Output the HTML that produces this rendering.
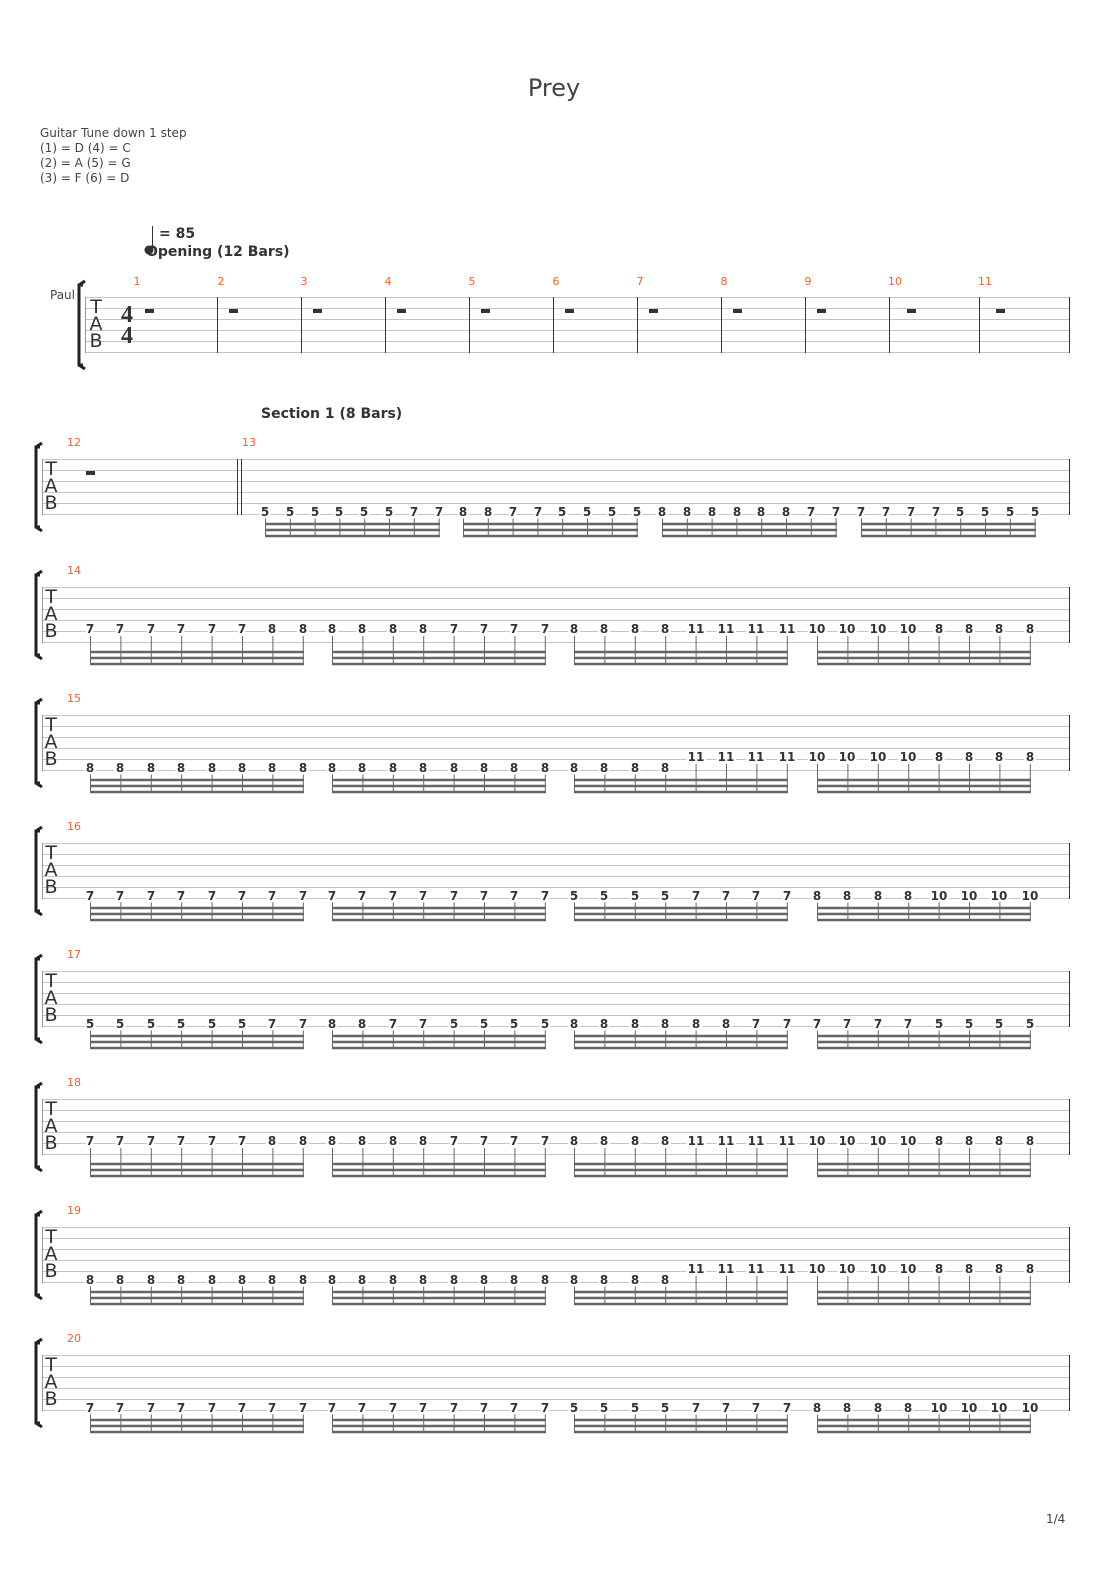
<!DOCTYPE html>
<html><head><meta charset="utf-8"><style>
body{margin:0;background:#fff}
svg{display:block}
.n{font-family:"DejaVu Sans","Liberation Sans",sans-serif;font-weight:bold;font-size:12px;fill:#333;text-anchor:middle;paint-order:stroke;stroke:#fff;stroke-width:5px;stroke-linejoin:round}
.m{font-family:"DejaVu Sans","Liberation Sans",sans-serif;font-size:11px;fill:#f0602c;text-anchor:middle}
.t{font-family:"DejaVu Sans","Liberation Sans",sans-serif;font-size:12px;fill:#444}
.tab{font-family:"DejaVu Sans","Liberation Sans",sans-serif;font-size:19px;fill:#333;text-anchor:middle}
</style></head><body>
<svg width="1110" height="1570" viewBox="0 0 1110 1570" xmlns="http://www.w3.org/2000/svg">
<defs>
<g id="st"><g stroke="#c4c4c4" stroke-width="1"><line x1="42" y1="0.5" x2="1070" y2="0.5"/><line x1="42" y1="11.5" x2="1070" y2="11.5"/><line x1="42" y1="22.5" x2="1070" y2="22.5"/><line x1="42" y1="33.5" x2="1070" y2="33.5"/><line x1="42" y1="44.5" x2="1070" y2="44.5"/><line x1="42" y1="55.5" x2="1070" y2="55.5"/></g>
<line x1="42.5" y1="0" x2="42.5" y2="56" stroke="#999"/><line x1="1069.5" y1="0" x2="1069.5" y2="56" stroke="#333"/>
<path d="M40,-12 L36,-12 L36,68 L40,68 M36,-12 L42,-16 M36,68 L42,72" stroke="#222" stroke-width="3" fill="none"/>
<text class="tab" x="51" y="16">T</text><text class="tab" x="51" y="33">A</text><text class="tab" x="51" y="50">B</text></g>
<g id="bw" stroke="#666"><g stroke-width="1"><line x1="0.5" y1="49" x2="0.5" y2="78"/><line x1="30.9" y1="49" x2="30.9" y2="78"/><line x1="61.3" y1="49" x2="61.3" y2="78"/><line x1="91.7" y1="49" x2="91.7" y2="78"/><line x1="122.1" y1="49" x2="122.1" y2="78"/><line x1="152.5" y1="49" x2="152.5" y2="78"/><line x1="182.9" y1="49" x2="182.9" y2="78"/><line x1="213.3" y1="49" x2="213.3" y2="78"/></g>
<g stroke-width="2.5"><line x1="0" y1="65" x2="214" y2="65"/><line x1="0" y1="71" x2="214" y2="71"/><line x1="0" y1="77" x2="214" y2="77"/></g></g>
<g id="bn" stroke="#666"><g stroke-width="1"><line x1="0.5" y1="58" x2="0.5" y2="78"/><line x1="25.3" y1="58" x2="25.3" y2="78"/><line x1="50.1" y1="58" x2="50.1" y2="78"/><line x1="74.9" y1="58" x2="74.9" y2="78"/><line x1="99.7" y1="58" x2="99.7" y2="78"/><line x1="124.5" y1="58" x2="124.5" y2="78"/><line x1="149.3" y1="58" x2="149.3" y2="78"/><line x1="174.1" y1="58" x2="174.1" y2="78"/></g>
<g stroke-width="2.5"><line x1="0" y1="65" x2="175" y2="65"/><line x1="0" y1="71" x2="175" y2="71"/><line x1="0" y1="77" x2="175" y2="77"/></g></g>
<g id="bws"><use href="#bw" x="90"/><use href="#bw" x="332"/><use href="#bw" x="574"/><use href="#bw" x="817"/></g>
</defs>

<text x="554" y="96" text-anchor="middle" font-family="DejaVu Sans,Liberation Sans,sans-serif" font-size="24" fill="#444">Prey</text>
<text class="t" x="40" y="137">Guitar Tune down 1 step</text>
<text class="t" x="40" y="152" font-size="11">(1) = D (4) = C</text>
<text class="t" x="40" y="167" font-size="11">(2) = A (5) = G</text>
<text class="t" x="40" y="182" font-size="11">(3) = F (6) = D</text>

<line x1="152.5" y1="226" x2="152.5" y2="249" stroke="#333"/><circle cx="149" cy="250" r="4.5" fill="#333"/>
<text x="159" y="238" font-family="DejaVu Sans,sans-serif" font-weight="bold" font-size="14" fill="#333">= 85</text>
<text x="146" y="256" font-family="DejaVu Sans,sans-serif" font-weight="bold" font-size="14" fill="#333">Opening (12 Bars)</text>

<!-- Row 1 -->
<g transform="translate(0,297)">
<g stroke="#c4c4c4"><line x1="85" y1="0.5" x2="1070" y2="0.5"/><line x1="85" y1="11.5" x2="1070" y2="11.5"/><line x1="85" y1="22.5" x2="1070" y2="22.5"/><line x1="85" y1="33.5" x2="1070" y2="33.5"/><line x1="85" y1="44.5" x2="1070" y2="44.5"/><line x1="85" y1="55.5" x2="1070" y2="55.5"/></g>
<g stroke="#333"><line x1="85.5" y1="0" x2="85.5" y2="56" stroke="#999"/><line x1="217.5" y1="0" x2="217.5" y2="56"/><line x1="301.5" y1="0" x2="301.5" y2="56"/><line x1="385.5" y1="0" x2="385.5" y2="56"/><line x1="469.5" y1="0" x2="469.5" y2="56"/><line x1="553.5" y1="0" x2="553.5" y2="56"/><line x1="637.5" y1="0" x2="637.5" y2="56"/><line x1="721.5" y1="0" x2="721.5" y2="56"/><line x1="805.5" y1="0" x2="805.5" y2="56"/><line x1="889.5" y1="0" x2="889.5" y2="56"/><line x1="979.5" y1="0" x2="979.5" y2="56"/><line x1="1069.5" y1="0" x2="1069.5" y2="56"/></g>
<path d="M83,-12 L79,-12 L79,68 L83,68 M79,-12 L85,-16 M79,68 L85,72" stroke="#222" stroke-width="3" fill="none"/>
<text class="tab" x="96" y="16">T</text><text class="tab" x="96" y="33">A</text><text class="tab" x="96" y="50">B</text>
<text x="127" y="25" text-anchor="middle" font-family="Liberation Serif,serif" font-weight="bold" font-size="24" fill="#333">4</text>
<text x="127" y="46" text-anchor="middle" font-family="Liberation Serif,serif" font-weight="bold" font-size="24" fill="#333">4</text>
<g fill="#333"><rect x="145" y="12" width="9" height="4"/><rect x="229" y="12" width="9" height="4"/><rect x="313" y="12" width="9" height="4"/><rect x="397" y="12" width="9" height="4"/><rect x="481" y="12" width="9" height="4"/><rect x="565" y="12" width="9" height="4"/><rect x="649" y="12" width="9" height="4"/><rect x="733" y="12" width="9" height="4"/><rect x="817" y="12" width="9" height="4"/><rect x="907" y="12" width="9" height="4"/><rect x="996" y="12" width="9" height="4"/></g>
</g>
<text class="t" x="50" y="299">Paul</text>
<g class="m"><text x="137" y="285">1</text><text x="221" y="285">2</text><text x="304" y="285">3</text><text x="388" y="285">4</text><text x="472" y="285">5</text><text x="556" y="285">6</text><text x="640" y="285">7</text><text x="724" y="285">8</text><text x="808" y="285">9</text><text x="895" y="285">10</text><text x="985" y="285">11</text></g>

<text x="261" y="418" font-family="DejaVu Sans,sans-serif" font-weight="bold" font-size="14" fill="#333">Section 1 (8 Bars)</text>

<!-- Row 2 (12-13) -->
<g transform="translate(0,459)">
<use href="#st"/>
<g stroke="#333"><line x1="237.5" y1="0" x2="237.5" y2="56"/><line x1="241.5" y1="0" x2="241.5" y2="56"/></g>
<rect x="86" y="12" width="9" height="4" fill="#333"/>
<use href="#bn" x="265"/><use href="#bn" x="463"/><use href="#bn" x="662"/><use href="#bn" x="861"/>
<g class="n"><text x="265" y="57">5</text><text x="290" y="57">5</text><text x="315" y="57">5</text><text x="339" y="57">5</text><text x="364" y="57">5</text><text x="389" y="57">5</text><text x="414" y="57">7</text><text x="439" y="57">7</text>
<text x="463" y="57">8</text><text x="488" y="57">8</text><text x="513" y="57">7</text><text x="538" y="57">7</text><text x="562" y="57">5</text><text x="587" y="57">5</text><text x="612" y="57">5</text><text x="637" y="57">5</text>
<text x="662" y="57">8</text><text x="687" y="57">8</text><text x="712" y="57">8</text><text x="737" y="57">8</text><text x="761" y="57">8</text><text x="786" y="57">8</text><text x="811" y="57">7</text><text x="836" y="57">7</text>
<text x="861" y="57">7</text><text x="886" y="57">7</text><text x="911" y="57">7</text><text x="936" y="57">7</text><text x="960" y="57">5</text><text x="985" y="57">5</text><text x="1010" y="57">5</text><text x="1035" y="57">5</text></g>
</g>
<g class="m"><text x="74" y="446">12</text><text x="249" y="446">13</text></g>

<!-- Row 14 -->
<g transform="translate(0,587)"><use href="#st"/><use href="#bws"/>
<g class="n">
<text x="90" y="46">7</text><text x="120" y="46">7</text><text x="151" y="46">7</text><text x="181" y="46">7</text><text x="212" y="46">7</text><text x="242" y="46">7</text><text x="272" y="46">8</text><text x="303" y="46">8</text>
<text x="332" y="46">8</text><text x="362" y="46">8</text><text x="393" y="46">8</text><text x="423" y="46">8</text><text x="454" y="46">7</text><text x="484" y="46">7</text><text x="514" y="46">7</text><text x="545" y="46">7</text>
<text x="574" y="46">8</text><text x="604" y="46">8</text><text x="635" y="46">8</text><text x="665" y="46">8</text><text x="696" y="46">11</text><text x="726" y="46">11</text><text x="756" y="46">11</text><text x="787" y="46">11</text>
<text x="817" y="46">10</text><text x="847" y="46">10</text><text x="878" y="46">10</text><text x="908" y="46">10</text><text x="939" y="46">8</text><text x="969" y="46">8</text><text x="999" y="46">8</text><text x="1030" y="46">8</text></g></g>
<text class="m" x="74" y="574">14</text>

<!-- Row 15 -->
<g transform="translate(0,715)"><use href="#st"/><use href="#bws"/>
<g class="n">
<text x="90" y="57">8</text><text x="120" y="57">8</text><text x="151" y="57">8</text><text x="181" y="57">8</text><text x="212" y="57">8</text><text x="242" y="57">8</text><text x="272" y="57">8</text><text x="303" y="57">8</text>
<text x="332" y="57">8</text><text x="362" y="57">8</text><text x="393" y="57">8</text><text x="423" y="57">8</text><text x="454" y="57">8</text><text x="484" y="57">8</text><text x="514" y="57">8</text><text x="545" y="57">8</text>
<text x="574" y="57">8</text><text x="604" y="57">8</text><text x="635" y="57">8</text><text x="665" y="57">8</text><text x="696" y="46">11</text><text x="726" y="46">11</text><text x="756" y="46">11</text><text x="787" y="46">11</text>
<text x="817" y="46">10</text><text x="847" y="46">10</text><text x="878" y="46">10</text><text x="908" y="46">10</text><text x="939" y="46">8</text><text x="969" y="46">8</text><text x="999" y="46">8</text><text x="1030" y="46">8</text></g></g>
<text class="m" x="74" y="702">15</text>

<!-- Row 16 -->
<g transform="translate(0,843)"><use href="#st"/><use href="#bws"/>
<g class="n">
<text x="90" y="57">7</text><text x="120" y="57">7</text><text x="151" y="57">7</text><text x="181" y="57">7</text><text x="212" y="57">7</text><text x="242" y="57">7</text><text x="272" y="57">7</text><text x="303" y="57">7</text>
<text x="332" y="57">7</text><text x="362" y="57">7</text><text x="393" y="57">7</text><text x="423" y="57">7</text><text x="454" y="57">7</text><text x="484" y="57">7</text><text x="514" y="57">7</text><text x="545" y="57">7</text>
<text x="574" y="57">5</text><text x="604" y="57">5</text><text x="635" y="57">5</text><text x="665" y="57">5</text><text x="696" y="57">7</text><text x="726" y="57">7</text><text x="756" y="57">7</text><text x="787" y="57">7</text>
<text x="817" y="57">8</text><text x="847" y="57">8</text><text x="878" y="57">8</text><text x="908" y="57">8</text><text x="939" y="57">10</text><text x="969" y="57">10</text><text x="999" y="57">10</text><text x="1030" y="57">10</text></g></g>
<text class="m" x="74" y="830">16</text>

<!-- Row 17 -->
<g transform="translate(0,971)"><use href="#st"/><use href="#bws"/>
<g class="n">
<text x="90" y="57">5</text><text x="120" y="57">5</text><text x="151" y="57">5</text><text x="181" y="57">5</text><text x="212" y="57">5</text><text x="242" y="57">5</text><text x="272" y="57">7</text><text x="303" y="57">7</text>
<text x="332" y="57">8</text><text x="362" y="57">8</text><text x="393" y="57">7</text><text x="423" y="57">7</text><text x="454" y="57">5</text><text x="484" y="57">5</text><text x="514" y="57">5</text><text x="545" y="57">5</text>
<text x="574" y="57">8</text><text x="604" y="57">8</text><text x="635" y="57">8</text><text x="665" y="57">8</text><text x="696" y="57">8</text><text x="726" y="57">8</text><text x="756" y="57">7</text><text x="787" y="57">7</text>
<text x="817" y="57">7</text><text x="847" y="57">7</text><text x="878" y="57">7</text><text x="908" y="57">7</text><text x="939" y="57">5</text><text x="969" y="57">5</text><text x="999" y="57">5</text><text x="1030" y="57">5</text></g></g>
<text class="m" x="74" y="958">17</text>

<!-- Row 18 -->
<g transform="translate(0,1099)"><use href="#st"/><use href="#bws"/>
<g class="n">
<text x="90" y="46">7</text><text x="120" y="46">7</text><text x="151" y="46">7</text><text x="181" y="46">7</text><text x="212" y="46">7</text><text x="242" y="46">7</text><text x="272" y="46">8</text><text x="303" y="46">8</text>
<text x="332" y="46">8</text><text x="362" y="46">8</text><text x="393" y="46">8</text><text x="423" y="46">8</text><text x="454" y="46">7</text><text x="484" y="46">7</text><text x="514" y="46">7</text><text x="545" y="46">7</text>
<text x="574" y="46">8</text><text x="604" y="46">8</text><text x="635" y="46">8</text><text x="665" y="46">8</text><text x="696" y="46">11</text><text x="726" y="46">11</text><text x="756" y="46">11</text><text x="787" y="46">11</text>
<text x="817" y="46">10</text><text x="847" y="46">10</text><text x="878" y="46">10</text><text x="908" y="46">10</text><text x="939" y="46">8</text><text x="969" y="46">8</text><text x="999" y="46">8</text><text x="1030" y="46">8</text></g></g>
<text class="m" x="74" y="1086">18</text>

<!-- Row 19 -->
<g transform="translate(0,1227)"><use href="#st"/><use href="#bws"/>
<g class="n">
<text x="90" y="57">8</text><text x="120" y="57">8</text><text x="151" y="57">8</text><text x="181" y="57">8</text><text x="212" y="57">8</text><text x="242" y="57">8</text><text x="272" y="57">8</text><text x="303" y="57">8</text>
<text x="332" y="57">8</text><text x="362" y="57">8</text><text x="393" y="57">8</text><text x="423" y="57">8</text><text x="454" y="57">8</text><text x="484" y="57">8</text><text x="514" y="57">8</text><text x="545" y="57">8</text>
<text x="574" y="57">8</text><text x="604" y="57">8</text><text x="635" y="57">8</text><text x="665" y="57">8</text><text x="696" y="46">11</text><text x="726" y="46">11</text><text x="756" y="46">11</text><text x="787" y="46">11</text>
<text x="817" y="46">10</text><text x="847" y="46">10</text><text x="878" y="46">10</text><text x="908" y="46">10</text><text x="939" y="46">8</text><text x="969" y="46">8</text><text x="999" y="46">8</text><text x="1030" y="46">8</text></g></g>
<text class="m" x="74" y="1214">19</text>

<!-- Row 20 -->
<g transform="translate(0,1355)"><use href="#st"/><use href="#bws"/>
<g class="n">
<text x="90" y="57">7</text><text x="120" y="57">7</text><text x="151" y="57">7</text><text x="181" y="57">7</text><text x="212" y="57">7</text><text x="242" y="57">7</text><text x="272" y="57">7</text><text x="303" y="57">7</text>
<text x="332" y="57">7</text><text x="362" y="57">7</text><text x="393" y="57">7</text><text x="423" y="57">7</text><text x="454" y="57">7</text><text x="484" y="57">7</text><text x="514" y="57">7</text><text x="545" y="57">7</text>
<text x="574" y="57">5</text><text x="604" y="57">5</text><text x="635" y="57">5</text><text x="665" y="57">5</text><text x="696" y="57">7</text><text x="726" y="57">7</text><text x="756" y="57">7</text><text x="787" y="57">7</text>
<text x="817" y="57">8</text><text x="847" y="57">8</text><text x="878" y="57">8</text><text x="908" y="57">8</text><text x="939" y="57">10</text><text x="969" y="57">10</text><text x="999" y="57">10</text><text x="1030" y="57">10</text></g></g>
<text class="m" x="74" y="1342">20</text>

<text class="t" x="1046" y="1523">1/4</text>
</svg>
</body></html>
